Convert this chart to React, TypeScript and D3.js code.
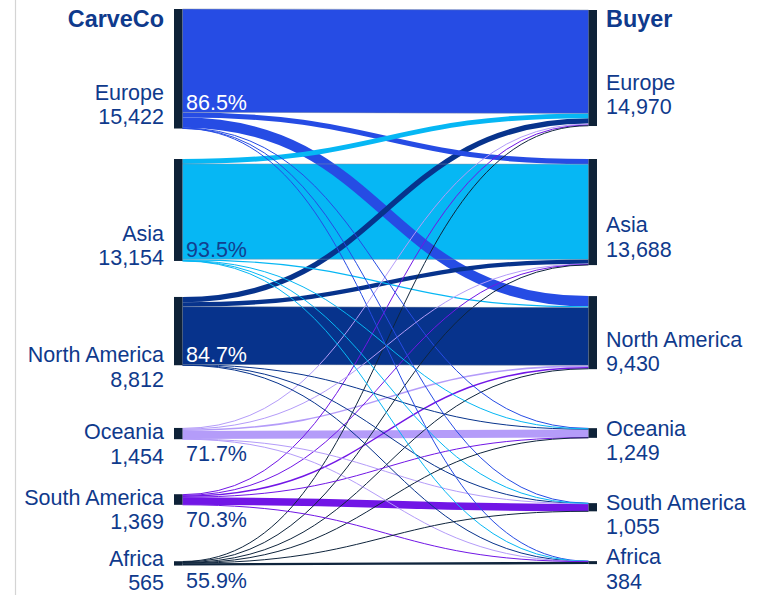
import React, { useEffect, useRef } from "react";
import * as d3 from "d3";

// regions, same order on both sides (CarveCo on the left, Buyer on the right)
const regions = ["Europe", "Asia", "North America", "Oceania", "South America", "Africa"];

// customers moving from a CarveCo region (row) to a Buyer region (column)
const europeFlows = [13340, 660, 1324, 60, 22, 16];
const asiaFlows = [629, 12299, 152, 45, 17, 12];
const northAmericaFlows = [691, 559, 7464, 60, 22, 16];
const oceaniaFlows = [120, 60, 200, 1042, 20, 12];
const southAmericaFlows = [120, 60, 190, 25, 962, 12];
const africaFlows = [70, 50, 100, 17, 12, 316];
const flows = [europeFlows, asiaFlows, northAmericaFlows, oceaniaFlows, southAmericaFlows, africaFlows];

const sourceTitle = "CarveCo";
const targetTitle = "Buyer";

// styling
const linkColors = ["#264ce4", "#06b7f4", "#07338c", "#b49cf9", "#7116e6", "#0f253d"];
const percentOnBand = ["#ffffff", "#12408f", "#ffffff", "#12408f", "#12408f", "#12408f"];
const textColor = "#0f3a8c";
const nodeColor = "#0e2238";

const W = 770;
const H = 595;

const App = () => {
  const svgRef = useRef(null);

  useEffect(() => {
    const svg = d3.select(svgRef.current);
    svg.selectAll("*").remove();

    const n = regions.length;
    const sourceTotals = flows.map((row) => d3.sum(row));
    const targetTotals = regions.map((_, j) => d3.sum(flows, (row) => row[j]));
    const grand = d3.sum(sourceTotals);

    // layout
    const nodeWidth = 8.5;
    const leftX = 174;
    const rightX = 588.5;
    const nodeSpace = 316;
    const leftTop = 9;
    const rightTop = 10;
    const leftGaps = [30.5, 36, 62.7, 55, 56.4];
    const rightGaps = [33, 31, 59, 65.3, 49.8];

    const h = d3.scaleLinear().domain([0, grand]).range([0, nodeSpace]);

    const stack = (totals, top, gaps, x) => {
      let y = top;
      return totals.map((v, i) => {
        const node = { i, x0: x, x1: x + nodeWidth, y0: y, y1: y + h(v), value: v };
        y = node.y1 + (gaps[i] || 0);
        return node;
      });
    };
    const leftNodes = stack(sourceTotals, leftTop, leftGaps, leftX);
    const rightNodes = stack(targetTotals, rightTop, rightGaps, rightX);

    // links: outgoing sorted by target order, incoming sorted by source order
    const links = [];
    const srcOffset = leftNodes.map((d) => d.y0);
    const tgtOffset = rightNodes.map((d) => d.y0);
    for (let i = 0; i < n; i++) {
      for (let j = 0; j < n; j++) {
        links.push({ s: i, t: j, value: flows[i][j], width: h(flows[i][j]) });
      }
    }
    for (let i = 0; i < n; i++) {
      for (let j = 0; j < n; j++) {
        const l = links[i * n + j];
        l.y0 = srcOffset[i] + l.width / 2;
        srcOffset[i] += l.width;
      }
    }
    for (let j = 0; j < n; j++) {
      for (let i = 0; i < n; i++) {
        const l = links[i * n + j];
        l.y1 = tgtOffset[j] + l.width / 2;
        tgtOffset[j] += l.width;
      }
    }

    const linkPath = d3
      .linkHorizontal()
      .source((d) => [leftX + nodeWidth, d.y0])
      .target((d) => [rightX, d.y1]);

    // frame line on the left
    svg
      .append("line")
      .attr("x1", 15.5)
      .attr("x2", 15.5)
      .attr("y1", 0)
      .attr("y2", H)
      .attr("stroke", "#d4d4d4")
      .attr("stroke-width", 1.2);

    const sorted = [...links].sort((a, b) => b.value - a.value);

    svg
      .append("g")
      .attr("fill", "none")
      .selectAll("path")
      .data(sorted)
      .join("path")
      .attr("d", linkPath)
      .attr("stroke", (d) => linkColors[d.s])
      .attr("stroke-width", (d) => Math.max(1, d.width));

    // thin grey edges on the wide bands
    const wide = links.filter((d) => d.width > 20);
    const edges = wide.flatMap((d) => [
      { y0: d.y0 - d.width / 2, y1: d.y1 - d.width / 2 },
      { y0: d.y0 + d.width / 2, y1: d.y1 + d.width / 2 },
    ]);
    svg
      .append("g")
      .attr("fill", "none")
      .selectAll("path")
      .data(edges)
      .join("path")
      .attr("d", linkPath)
      .attr("stroke", "#7f8ea3")
      .attr("stroke-opacity", 0.6)
      .attr("stroke-width", 0.8);

    // nodes
    svg
      .append("g")
      .selectAll("rect")
      .data([...leftNodes, ...rightNodes])
      .join("rect")
      .attr("x", (d) => d.x0)
      .attr("y", (d) => d.y0)
      .attr("width", (d) => d.x1 - d.x0)
      .attr("height", (d) => Math.max(3, d.y1 - d.y0))
      .attr("fill", nodeColor);

    const font = "'Liberation Sans', Arial, sans-serif";
    const fmt = d3.format(",");
    const pct = d3.format(".1%");
    const fontSize = 21.5;

    // titles
    svg
      .append("text")
      .attr("x", leftX - 10)
      .attr("y", 27)
      .attr("text-anchor", "end")
      .attr("font-family", font)
      .attr("font-size", 23.4)
      .attr("font-weight", "bold")
      .attr("fill", textColor)
      .text(sourceTitle);
    svg
      .append("text")
      .attr("x", rightX + nodeWidth + 9)
      .attr("y", 27)
      .attr("font-family", font)
      .attr("font-size", 23.4)
      .attr("font-weight", "bold")
      .attr("fill", textColor)
      .text(targetTitle);

    const lineGap = 24.5;

    // left labels
    const leftLabels = svg
      .append("g")
      .attr("font-family", font)
      .attr("font-size", fontSize)
      .attr("fill", textColor)
      .attr("text-anchor", "end")
      .selectAll("text")
      .data(leftNodes)
      .join("text")
      .attr("x", leftX - 10)
      .attr("y", (d) => Math.min((d.y0 + d.y1) / 2 + 31, d.y1));
    leftLabels.append("tspan").text((d) => regions[d.i]);
    leftLabels
      .append("tspan")
      .attr("x", leftX - 10)
      .attr("dy", lineGap)
      .text((d) => fmt(d.value));

    // right labels
    const rightLabels = svg
      .append("g")
      .attr("font-family", font)
      .attr("font-size", fontSize)
      .attr("fill", textColor)
      .selectAll("text")
      .data(rightNodes)
      .join("text")
      .attr("x", rightX + nodeWidth + 9)
      .attr("y", (d) => (d.y0 + d.y1) / 2 + (d.y1 - d.y0) * 0.18 + 1);
    rightLabels.append("tspan").text((d) => regions[d.i]);
    rightLabels
      .append("tspan")
      .attr("x", rightX + nodeWidth + 9)
      .attr("dy", lineGap)
      .text((d) => fmt(d.value));

    // share that stays in the same region
    const stay = leftNodes.map((d) => {
      const l = links[d.i * n + d.i];
      const inside = l.width > 25;
      return {
        text: pct(l.value / d.value),
        y: inside ? l.y0 + l.width / 2 - 2 : d.y1 + 22,
        fill: inside ? percentOnBand[d.i] : textColor,
      };
    });
    svg
      .append("g")
      .attr("font-family", font)
      .attr("font-size", fontSize)
      .selectAll("text")
      .data(stay)
      .join("text")
      .attr("x", leftX + nodeWidth + 3.5)
      .attr("y", (d) => d.y)
      .attr("fill", (d) => d.fill)
      .text((d) => d.text);
  }, []);

  return (
    <svg
      ref={svgRef}
      width={W}
      height={H}
      style={{ position: "absolute", left: 0, top: 0, background: "#fff" }}
    ></svg>
  );
};

export default App;
